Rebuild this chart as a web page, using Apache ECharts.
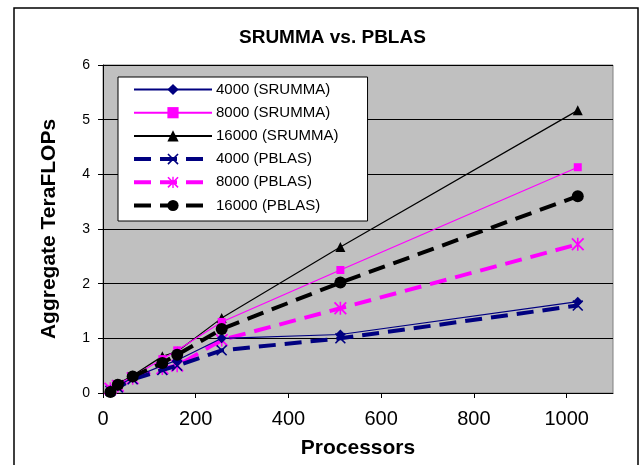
<!DOCTYPE html>
<html>
<head>
<meta charset="utf-8">
<script src="https://cdn.jsdelivr.net/npm/echarts@6/dist/echarts.min.js"></script>
<style>
  html, body { margin: 0; padding: 0; background: #fff; }
  #chart { width: 641px; height: 465px; }
</style>
</head>
<body>
<div id="chart"></div>
<script>
// processors
let procs = [16, 32, 64, 128, 160, 256, 512, 1024];

let s4000 = [0.05, 0.13, 0.28, 0.5, 0.6, 1.0, 1.07, 1.67];
let s8000 = [0.07, 0.16, 0.3, 0.62, 0.78, 1.3, 2.25, 4.13];
let s16000 = [0.05, 0.17, 0.32, 0.67, 0.76, 1.37, 2.67, 5.17];
let p4000 = [0.04, 0.1, 0.25, 0.42, 0.5, 0.78, 1.0, 1.6];
let p8000 = [0.08, 0.13, 0.27, 0.45, 0.5, 0.97, 1.55, 2.72];
let p16000 = [0.02, 0.15, 0.3, 0.55, 0.7, 1.17, 2.02, 3.6];

let names = ['4000 (SRUMMA)', '8000 (SRUMMA)', '16000 (SRUMMA)', '4000 (PBLAS)', '8000 (PBLAS)', '16000 (PBLAS)'];

const xMark = 'path://M1,0L5,4L9,0L10,1L6,5L10,9L9,10L5,6L1,10L0,9L4,5L0,1Z';
const starMark = 'path://M1,0L5,4L9,0L10,1L6,5L10,9L9,10L5,6L1,10L0,9L4,5L0,1Z M4.4,0L5.6,0L5.6,10L4.4,10Z';

function pairs(vals){
    return procs.map((p, i) => [p, vals[i]]);
}

let myChart = echarts.init(document.getElementById('chart'));

let dash = [17, 9];
myChart.setOption({
    animation: false,
    title: {
        text: 'SRUMMA vs. PBLAS',
        left: 234,
        top: 23,
        textStyle: { fontFamily: 'Arial', fontSize: 19, fontWeight: 'bold', color: '#000' }
    },
    graphic: [{
        type: 'rect',
        shape: { x: 14, y: 8, width: 624, height: 470 },
        style: { fill: 'none', stroke: '#000', lineWidth: 1.5 },
        silent: true
    }],
    legend: {
        orient: 'vertical',
        left: 118,
        top: 77,
        padding: [5, 29, 8, 14],
        itemGap: 8.2,
        itemWidth: 78,
        itemHeight: 14,
        backgroundColor: '#fff',
        borderColor: '#000',
        borderWidth: 1,
        borderRadius: 0,
        data: [
            { name: names[0] },
            { name: names[1] },
            { name: names[2] },
            { name: names[3], lineStyle: { width: 4 } },
            { name: names[4], lineStyle: { width: 4 } },
            { name: names[5], lineStyle: { width: 4 } }
        ],
        textStyle: { fontFamily: 'Arial', fontSize: 15, color: '#000', padding: [0, 0, 0, -1] }
    },
    grid: {
        left: 103,
        right: 28,
        top: 65,
        bottom: 72,
        show: true,
        backgroundColor: '#c0c0c0',
        borderColor: '#808080',
        borderWidth: 1
    },
    xAxis: {
        type: 'value',
        min: 0,
        max: 1100,
        interval: 200,
        name: 'Processors',
        nameLocation: 'middle',
        nameGap: 45,
        nameTextStyle: { fontFamily: 'Arial', fontSize: 21, fontWeight: 'bold', color: '#000' },
        axisLine: { lineStyle: { color: '#000', width: 1 } },
        axisTick: { show: true, inside: false, length: 5, lineStyle: { color: '#000' } },
        axisLabel: {
            fontFamily: 'Arial', fontSize: 20, color: '#000', margin: 16, showMaxLabel: false,
            formatter: v => String(v)
        },
        splitLine: { show: false }
    },
    yAxis: {
        type: 'value',
        min: 0,
        max: 6,
        interval: 1,
        name: 'Aggregate TeraFLOPs',
        nameLocation: 'middle',
        nameGap: 43,
        nameTextStyle: { fontFamily: 'Arial', fontSize: 21, fontWeight: 'bold', color: '#000' },
        axisLine: { show: true, lineStyle: { color: '#000', width: 1 } },
        axisTick: { show: true, inside: false, length: 5, lineStyle: { color: '#000' } },
        axisLabel: { fontFamily: 'Arial', fontSize: 14, color: '#000', margin: 13 },
        splitLine: { show: true, lineStyle: { color: '#000', width: 1 } }
    },
    series: [
        {
            name: names[0], type: 'line', data: pairs(s4000),
            color: '#000080', symbol: 'diamond', symbolSize: 10, showAllSymbol: true,
            lineStyle: { width: 1.2, color: '#000080' }, z: 6
        },
        {
            name: names[1], type: 'line', data: pairs(s8000),
            color: '#ff00ff', symbol: 'rect', symbolSize: 8,
            lineStyle: { width: 1.2, color: '#ff00ff' }, z: 5
        },
        {
            name: names[2], type: 'line', data: pairs(s16000),
            color: '#000000', symbol: 'triangle', symbolSize: 10,
            lineStyle: { width: 1.2, color: '#000' }, z: 4
        },
        {
            name: names[3], type: 'line', data: pairs(p4000),
            color: '#000080', symbol: xMark, symbolSize: 11,
            lineStyle: { width: 4, color: '#000080', type: dash }, z: 3
        },
        {
            name: names[4], type: 'line', data: pairs(p8000),
            color: '#ff00ff', symbol: starMark, symbolSize: 13,
            lineStyle: { width: 4, color: '#ff00ff', type: dash }, z: 2
        },
        {
            name: names[5], type: 'line', data: pairs(p16000),
            color: '#000000', symbol: 'circle', symbolSize: 12,
            lineStyle: { width: 4, color: '#000', type: dash }, z: 7
        }
    ]
});
</script>
</body>
</html>
